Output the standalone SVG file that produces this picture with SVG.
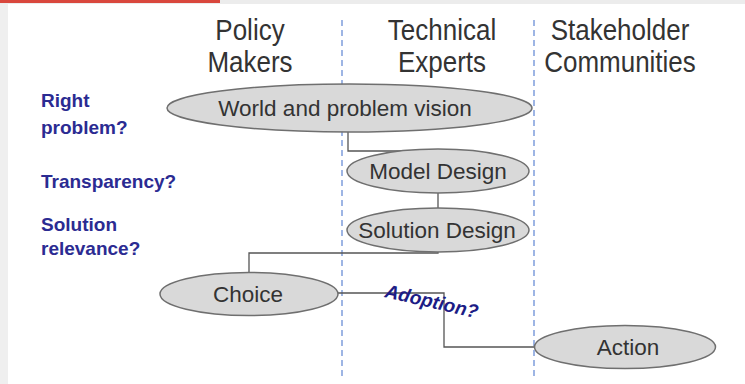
<svg xmlns="http://www.w3.org/2000/svg" width="745" height="384" viewBox="0 0 745 384">
  <style>
    .hdr { font-family: "Liberation Sans", Arial, sans-serif; font-size: 26px; fill: #333; text-anchor: middle; }
    .q { font-family: "Liberation Sans", Arial, sans-serif; font-size: 19px; font-weight: bold; fill: #2b2b92; }
    .node ellipse { fill: #d9d9d9; stroke: #6f6f6f; stroke-width: 1.5; }
    .node text { font-family: "Liberation Sans", Arial, sans-serif; font-size: 22.5px; fill: #333; text-anchor: middle; }
    .lane { stroke: #7f9ddb; stroke-width: 1.5; stroke-dasharray: 6 4; fill: none; }
    .conn path { fill: none; stroke: #555; stroke-width: 1.3; }
  </style>
  <rect x="0" y="0" width="745" height="384" fill="#ffffff"/>
  <rect x="0" y="0" width="8" height="384" fill="#efefef"/>
  <rect x="0" y="0" width="745" height="4" fill="#ececec"/>
  <rect x="0" y="0" width="220" height="3" fill="#d9473d"/>

  <g id="lanes">
    <line class="lane" x1="342" y1="20" x2="342" y2="380"/>
    <line class="lane" x1="534" y1="20" x2="534" y2="380"/>
  </g>

  <g id="headers" transform="translate(0,-6) scale(1,1.15)">
    <text class="hdr" x="250" y="40">Policy</text>
    <text class="hdr" x="250" y="68">Makers</text>
    <text class="hdr" x="442" y="40">Technical</text>
    <text class="hdr" x="442" y="68">Experts</text>
    <text class="hdr" x="620" y="40">Stakeholder</text>
    <text class="hdr" x="620" y="68">Communities</text>
  </g>

  <g id="questions">
    <text class="q" x="41" y="107">Right</text>
    <text class="q" x="41" y="134">problem?</text>
    <text class="q" x="41" y="188">Transparency?</text>
    <text class="q" x="41" y="231">Solution</text>
    <text class="q" x="41" y="255">relevance?</text>
  </g>

  <g id="connectors" class="conn">
    <path d="M348,132 V151 H438"/>
    <path d="M438,193 V208"/>
    <path d="M438,252 V253 H249 V273"/>
    <path d="M338,293 H444 V347 H535"/>
  </g>

  <g id="world" class="node">
    <ellipse cx="349.5" cy="108" rx="182.5" ry="24"/>
    <text x="345" y="116">World and problem vision</text>
  </g>
  <g id="model" class="node">
    <ellipse cx="438" cy="171" rx="91" ry="22"/>
    <text x="438" y="179">Model Design</text>
  </g>
  <g id="solution" class="node">
    <ellipse cx="438" cy="230" rx="91" ry="22"/>
    <text x="437" y="238">Solution Design</text>
  </g>
  <g id="choice" class="node">
    <ellipse cx="249" cy="294" rx="89" ry="21.5"/>
    <text x="248" y="302">Choice</text>
  </g>
  <g id="action" class="node">
    <ellipse cx="625" cy="347" rx="90.5" ry="21.5"/>
    <text x="628" y="355">Action</text>
  </g>

  <text class="q" x="0" y="0" font-style="italic" transform="translate(384,297) rotate(13)" style="fill:#1c1c86">Adoption?</text>
</svg>
